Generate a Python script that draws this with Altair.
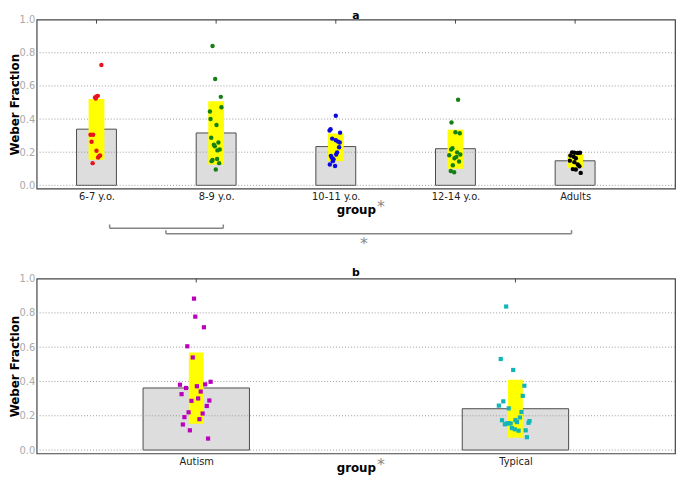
import json
import altair as alt
import pandas as pd

FONT = "DejaVu Sans"

# ---------------- panel a data ----------------
groups_a = ["6-7 y.o.", "8-9 y.o.", "10-11 y.o.", "12-14 y.o.", "Adults"]
means_a = [0.339, 0.316, 0.234, 0.221, 0.148]
band_lo_a = [0.155, 0.125, 0.146, 0.100, 0.106]
band_hi_a = [0.521, 0.508, 0.313, 0.336, 0.188]
colors_a = ["#e8141c", "#157f15", "#0a0adc", "#157f15", "#000000"]

y_67 = [0.726, 0.531, 0.536, 0.540, 0.524, 0.305, 0.305, 0.263, 0.209, 0.176, 0.180, 0.168, 0.134]
dx_67 = [0.041, -0.012, 0.0, 0.011, -0.006, -0.050, -0.028, -0.041, 0.0, 0.022, 0.030, 0.013, -0.032]
y_89 = [0.841, 0.642, 0.534, 0.471, 0.446, 0.400, 0.364, 0.287, 0.259, 0.245, 0.236, 0.216, 0.211,
        0.153, 0.146, 0.159, 0.134, 0.096]
dx_89 = [-0.030, -0.008, 0.039, 0.044, -0.052, -0.047, 0.003, -0.041, 0.019, -0.019, -0.011, 0.030,
         0.011, -0.030, -0.038, 0.008, 0.025, -0.003]
y_1011 = [0.420, 0.339, 0.331, 0.318, 0.282, 0.272, 0.264, 0.259, 0.230, 0.199, 0.186, 0.178, 0.167,
          0.157, 0.146, 0.126, 0.117]
dx_1011 = [0.0, -0.044, -0.052, 0.036, -0.030, 0.0, 0.019, 0.033, 0.028, 0.011, 0.003, -0.041, -0.033,
           -0.019, -0.025, -0.050, -0.006]
y_1214 = [0.517, 0.379, 0.320, 0.314, 0.224, 0.216, 0.199, 0.182, 0.186, 0.172, 0.163, 0.144, 0.121,
          0.086, 0.079]
dx_1214 = [0.022, -0.033, 0.0, 0.036, -0.025, -0.036, 0.014, -0.052, 0.041, 0.008, -0.008, 0.030,
           -0.022, -0.039, -0.011]
y_adult = [0.199, 0.197, 0.195, 0.197, 0.180, 0.172, 0.163, 0.149, 0.140, 0.126, 0.115, 0.098, 0.096, 0.075]
dx_adult = [-0.025, -0.006, 0.022, 0.041, -0.039, -0.011, 0.006, -0.044, -0.006, 0.022, 0.036, -0.019,
            0.006, 0.047]

# significance brackets in panel a (group-index units)
bracket_from = [0.11, 0.58]
bracket_to = [1.06, 3.97]

# ---------------- panel b data ----------------
groups_b = ["Autism", "Typical"]
means_b = [0.362, 0.241]
band_lo_b = [0.153, 0.072]
band_hi_b = [0.569, 0.410]
colors_b = ["#bb00bb", "#11b5b5"]

y_aut = [0.883, 0.778, 0.716, 0.605, 0.540, 0.398, 0.381, 0.362, 0.372, 0.383, 0.341, 0.326, 0.287,
         0.301, 0.289, 0.257, 0.220, 0.213, 0.192, 0.180, 0.149, 0.115, 0.067]
dx_aut = [-0.007, -0.003, 0.024, -0.028, -0.011, 0.045, -0.051, -0.032, 0.002, 0.028, 0.014, -0.046,
          -0.015, 0.006, 0.041, 0.033, -0.024, 0.020, -0.037, 0.010, -0.042, -0.020, 0.037]
y_typ = [0.837, 0.531, 0.467, 0.375, 0.316, 0.284, 0.259, 0.243, 0.222, 0.190, 0.174, 0.174, 0.163,
         0.150, 0.155, 0.157, 0.155, 0.169, 0.159, 0.128, 0.121, 0.113, 0.115, 0.075]
dx_typ = [-0.029, -0.046, -0.007, 0.028, 0.023, -0.038, -0.052, -0.021, 0.019, 0.014, -0.042, 0.0,
          0.005, -0.033, -0.027, -0.021, -0.015, 0.044, 0.041, -0.011, -0.002, 0.010, 0.032, 0.036]

y_ticks = [0.0, 0.2, 0.4, 0.6, 0.8, 1.0]
grid_ticks = [0.0, 0.2, 0.4, 0.6, 0.8]

W = 646
FRAME = alt.ViewBackground(stroke="#444444", strokeWidth=1.2)


def text_layer(txt, x, y, size, color, weight="normal"):
    return alt.Chart(pd.DataFrame({"t": [txt]})).mark_text(
        text=txt, fontSize=size, color=color, fontWeight=weight,
        baseline="alphabetic", align="center").encode(x=alt.value(x), y=alt.value(y))


def make_panel(groups, means, lo, hi, ys_list, dxs_list, colors, shape, size, xmax,
               title, title_gap, yellow_w, group_title_y, star_y):
    n = len(groups)
    bars = pd.DataFrame({"pos": list(range(n)), "mean": means, "lo": lo, "hi": hi})
    rows = []
    for i, (g, ys_, dxs) in enumerate(zip(groups, ys_list, dxs_list)):
        for v, d in zip(ys_, dxs):
            rows.append({"grp": g, "pos": i, "v": v, "dx": d})
    pts = pd.DataFrame(rows)

    xs = alt.Scale(domain=[-0.5, xmax], nice=False, zero=False)
    ys = alt.Scale(domain=[-0.02, 1.0], nice=False, zero=False)
    xax = alt.Axis(values=list(range(n)), labelExpr=json.dumps(groups) + "[datum.value]",
                   title="group", grid=False, ticks=False, domain=False, labelFontSize=10,
                   labelColor="#222222", labelPadding=3, titleFontSize=12, titleFontWeight="bold",
                   titleColor="#000000", titleBaseline="alphabetic", titleY=group_title_y)
    yax = alt.Axis(values=y_ticks, format=".1f", grid=False, ticks=False, domain=False,
                   labelFontSize=10, labelColor="#aaaaaa", labelPadding=2, title="Weber Fraction",
                   titleFontSize=12, titleFontWeight="bold", titleColor="#000000",
                   titleBaseline="alphabetic", titleX=-18.7)

    gray = alt.Chart(bars).transform_calculate(
        xl="datum.pos - 1/6", xr="datum.pos + 1/6", base="0"
    ).mark_bar(color="#dddddd", stroke="#4a4a4a", strokeWidth=1).encode(
        x=alt.X("xl:Q", scale=xs, axis=xax), x2="xr:Q",
        y=alt.Y("mean:Q", scale=ys, axis=yax), y2="base:Q")

    grid = alt.Chart(pd.DataFrame({"g": grid_ticks})).mark_rule(
        color="#9a9a9a", strokeDash=[1, 2], strokeWidth=1).encode(
        y=alt.Y("g:Q", scale=ys, axis=yax))

    yellow = alt.Chart(bars).transform_calculate(
        yl=f"datum.pos - {yellow_w / 2}", yr=f"datum.pos + {yellow_w / 2}"
    ).mark_bar(color="#ffff00").encode(
        x=alt.X("yl:Q", scale=xs, axis=xax), x2="yr:Q",
        y=alt.Y("lo:Q", scale=ys, axis=yax), y2="hi:Q")

    topticks = alt.Chart(bars).mark_rule(color="#444444", strokeWidth=1).encode(
        x=alt.X("pos:Q", scale=xs, axis=xax), y=alt.value(0), y2=alt.value(4))

    points = alt.Chart(pts).transform_calculate(px="datum.pos + datum.dx").mark_point(
        filled=True, size=size, shape=shape, opacity=1).encode(
        x=alt.X("px:Q", scale=xs, axis=xax), y=alt.Y("v:Q", scale=ys, axis=yax),
        color=alt.Color("grp:N", scale=alt.Scale(domain=groups, range=colors), legend=None))

    layers = [gray, grid, yellow, topticks, points,
              text_layer("*", 348.3, star_y, 16, "#888888"),
              text_layer(title, W / 2, -title_gap, 11, "#000000", "bold")]
    return layers, xs, xax


layers_a, xs_a, xax_a = make_panel(
    groups_a, means_a, band_lo_a, band_hi_a,
    [y_67, y_89, y_1011, y_1214, y_adult], [dx_67, dx_89, dx_1011, dx_1214, dx_adult],
    colors_a, "circle", 20, 4.835, "a", 1, 0.132, 25.5, 195)

# brackets below panel a
bracket_y = [211.0, 216.7]
for b1, b2, by in zip(bracket_from, bracket_to, bracket_y):
    bdf = pd.DataFrame({"b1": [b1], "b2": [b2]})
    layers_a.append(alt.Chart(bdf).mark_rule(color="#858585", strokeWidth=1.5).encode(
        x=alt.X("b1:Q", scale=xs_a, axis=xax_a), x2="b2:Q", y=alt.value(by)))
    edf = pd.DataFrame({"e": [b1, b2]})
    layers_a.append(alt.Chart(edf).mark_rule(color="#858585", strokeWidth=1.5).encode(
        x=alt.X("e:Q", scale=xs_a, axis=xax_a), y=alt.value(by - 3.7), y2=alt.value(by)))
layers_a.append(text_layer("*", 331.3, 232.5, 16, "#888888"))

panel_a = alt.layer(*layers_a).properties(width=W, height=171, view=FRAME)

layers_b, xs_b, xax_b = make_panel(
    groups_b, means_b, band_lo_b, band_hi_b, [y_aut, y_typ], [dx_aut, dx_typ],
    colors_b, "square", 18, 1.5, "b", 3, 0.0464, 17.8, 194.2)
panel_b = alt.layer(*layers_b).properties(width=W, height=177, view=FRAME)

chart = alt.vconcat(panel_a, panel_b, spacing=12).resolve_scale(color="independent").properties(
    padding={"left": -1, "top": -2, "right": 0, "bottom": 0}
).configure_view(stroke="#444444", strokeWidth=1.2).configure(font=FONT)

chart.save("out.html", embed_options={"renderer": "svg", "actions": False})
